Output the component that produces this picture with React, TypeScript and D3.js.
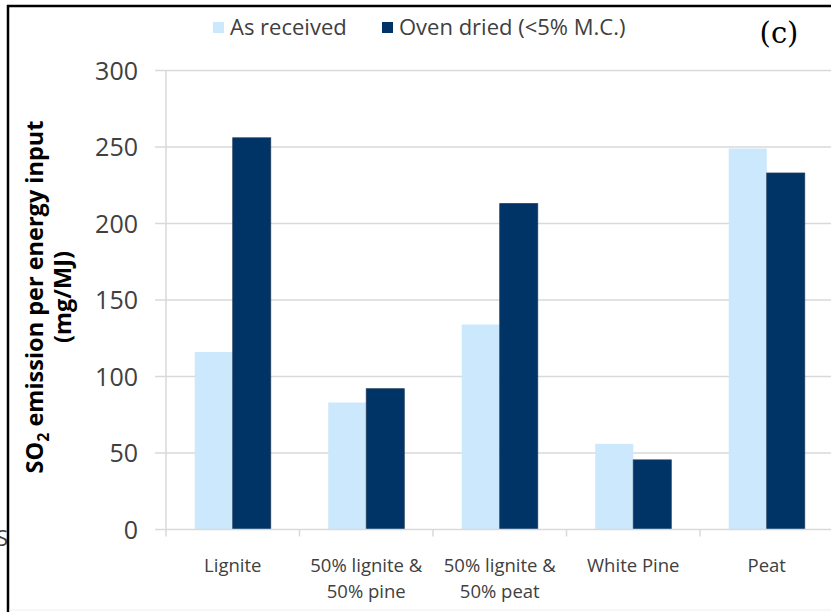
import React, { useEffect, useRef } from "react";
import * as d3 from "d3";

const categories = ["Lignite", "50% lignite & 50% pine", "50% lignite & 50% peat", "White Pine", "Peat"];
const categoryLines = [["Lignite"], ["50% lignite &", "50% pine"], ["50% lignite &", "50% peat"], ["White Pine"], ["Peat"]];
const seriesNames = ["As received", "Oven dried (<5% M.C.)"];
const asReceived = [116, 83, 134, 56, 249];
const ovenDried = [256, 92, 213, 45.5, 233];
const yTicks = [0, 50, 100, 150, 200, 250, 300];
const colors = ["#cce8fc", "#003366"];

const W = 831, H = 612;
const SANS = "'Open Sans', 'Noto Sans', sans-serif";

export default function App() {
  const ref = useRef<SVGSVGElement>(null);
  useEffect(() => {
    const svg = d3.select(ref.current);
    svg.selectAll("*").remove();

    const x0 = d3.scaleBand().domain(categories).range([166, 833.5]).paddingInner(0).paddingOuter(0);
    const x1 = d3.scaleBand().domain(seriesNames).range([28.75, 104.75]).padding(0);
    const y = d3.scaleLinear().domain([0, 300]).range([529.5, 70.5]);

    svg.append("rect").attr("width", W).attr("height", H).attr("fill", "#fff");

    // gridlines
    svg.append("g").selectAll("line").data(yTicks.filter(t => t > 0)).join("line")
      .attr("x1", 155).attr("x2", W).attr("y1", d => y(d)).attr("y2", d => y(d))
      .attr("stroke", "#d9d9d9").attr("stroke-width", 1.5);

    // y axis line
    svg.append("line").attr("x1", 166).attr("x2", 166).attr("y1", y(300)).attr("y2", y(0))
      .attr("stroke", "#d9d9d9").attr("stroke-width", 1.5);

    // bars
    const data = categories.map((c, i) => ({ c, vals: [asReceived[i], ovenDried[i]] }));
    const g = svg.append("g");
    data.forEach(d => {
      d.vals.forEach((v, si) => {
        g.append("rect")
          .attr("x", (x0(d.c) as number) + (x1(seriesNames[si]) as number))
          .attr("y", y(v))
          .attr("width", x1.bandwidth())
          .attr("height", y(0) - y(v))
          .attr("fill", colors[si])
          .attr("stroke", si === 1 ? "#1f3d5c" : "none")
          .attr("stroke-width", si === 1 ? 0.8 : 0);
      });
    });

    // x axis line
    svg.append("line").attr("x1", 155).attr("x2", W).attr("y1", y(0)).attr("y2", y(0))
      .attr("stroke", "#d9d9d9").attr("stroke-width", 1.5);
    // category ticks
    svg.append("g").selectAll("line").data(categories).join("line")
      .attr("x1", d => x0(d) as number).attr("x2", d => x0(d) as number)
      .attr("y1", y(0)).attr("y2", y(0) + 7)
      .attr("stroke", "#d9d9d9").attr("stroke-width", 1.5);

    // y tick labels
    svg.append("g").selectAll("text").data(yTicks).join("text")
      .attr("x", 138).attr("y", d => y(d) + 9)
      .attr("text-anchor", "end")
      .attr("font-family", SANS).attr("font-size", 25).attr("fill", "#404040")
      .text(d => String(d));

    // x labels
    categoryLines.forEach((lines, i) => {
      const cx = (x0(categories[i]) as number) + x0.bandwidth() / 2;
      lines.forEach((ln, li) => {
        svg.append("text").attr("x", cx).attr("y", 572 + li * 26)
          .attr("text-anchor", "middle")
          .attr("font-family", SANS).attr("font-size", 18.5).attr("fill", "#404040")
          .text(ln);
      });
    });

    // y title
    const t = svg.append("text")
      .attr("transform", "translate(43,297) rotate(-90)")
      .attr("text-anchor", "middle")
      .attr("font-family", SANS).attr("font-size", 23.5).attr("font-weight", "bold").attr("fill", "#000");
    t.append("tspan").text("SO");
    t.append("tspan").attr("font-size", 16).attr("dy", 6).text("2");
    t.append("tspan").attr("dy", -6).text(" emission per energy input");
    svg.append("text")
      .attr("transform", "translate(71,297) rotate(-90)")
      .attr("text-anchor", "middle")
      .attr("font-family", SANS).attr("font-size", 23.5).attr("font-weight", "bold").attr("fill", "#000")
      .text("(mg/MJ)");

    // legend
    const legendX = [213, 382];
    seriesNames.forEach((s, i) => {
      svg.append("rect").attr("x", legendX[i]).attr("y", 22).attr("width", 11).attr("height", 11)
        .attr("fill", colors[i]);
      svg.append("text").attr("x", legendX[i] + 17).attr("y", 35)
        .attr("font-family", SANS).attr("font-size", 22).attr("fill", "#404040")
        .text(s);
    });

    // (c)
    svg.append("text").attr("x", 779).attr("y", 43).attr("text-anchor", "middle")
      .attr("font-family", "'DejaVu Serif', serif").attr("font-size", 29).attr("fill", "#000")
      .text("(c)");

    // clipped letter at left edge
    svg.append("text").attr("x", -4).attr("y", 546)
      .attr("font-family", SANS).attr("font-size", 22).attr("fill", "#404040")
      .text("S");

    // border
    svg.append("line").attr("x1", 8).attr("x2", 8).attr("y1", 5).attr("y2", H).attr("stroke", "#000").attr("stroke-width", 2.5);
    svg.append("line").attr("x1", 7).attr("x2", W).attr("y1", 6).attr("y2", 6).attr("stroke", "#000").attr("stroke-width", 2.5);
    svg.append("line").attr("x1", 9).attr("x2", W).attr("y1", 610).attr("y2", 610).attr("stroke", "#eeeeee").attr("stroke-width", 1);
  }, []);

  return (
    <svg ref={ref} width={W} height={H} style={{ position: "absolute", left: 0, top: 0, display: "block" }} />
  );
}
